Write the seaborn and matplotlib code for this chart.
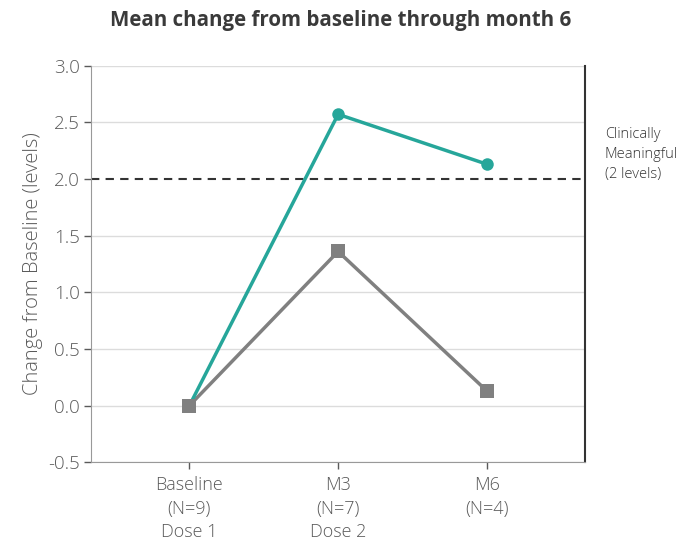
import matplotlib
matplotlib.use("Agg")
import matplotlib.pyplot as plt
import seaborn as sns
import pandas as pd

visits = ["Baseline\n(N=9)\nDose 1", "M3\n(N=7)\nDose 2", "M6\n(N=4)"]
teal_vals = [0.0, 2.57, 2.13]
gray_vals = [0.0, 1.36, 0.13]
threshold = 2.0
yticks = [-0.5, 0.0, 0.5, 1.0, 1.5, 2.0, 2.5, 3.0]

sns.set_style("white")
plt.rcParams['font.family'] = ['Open Sans', 'DejaVu Sans']

dfrm = pd.DataFrame({
    'x': list(range(len(visits))) * 2,
    'y': gray_vals + teal_vals,
    'group': ['gray'] * 3 + ['teal'] * 3,
})

fig, ax = plt.subplots(figsize=(6.81, 5.51), dpi=100)
fig.subplots_adjust(left=0.134, right=0.859, top=0.881, bottom=0.161)

for val in yticks:
    if val != threshold:
        ax.axhline(val, color='#dcdcdc', lw=1, zorder=0)

ax.axhline(threshold, color='#333333', lw=1.5, ls=(0, (4, 3)), zorder=1)

sns.lineplot(data=dfrm[dfrm.group == 'gray'], x='x', y='y', color='#808080',
             marker='s', markersize=10, markeredgewidth=0, lw=2.5, ax=ax, zorder=2)
sns.lineplot(data=dfrm[dfrm.group == 'teal'], x='x', y='y', color='#26a69a',
             marker='o', markersize=9, markeredgewidth=0, lw=2.5, ax=ax, zorder=3)
# baseline gray square sits on top
ax.plot([0], [gray_vals[0]], marker='s', color='#808080', markersize=10,
        markeredgewidth=0, zorder=4)

ax.set_xlim(-0.66, 2.66)
ax.set_ylim(-0.5, 3.0)
ax.set_yticks(yticks)
ax.set_yticklabels(["{:.1f}".format(v) for v in yticks], size=13.5, weight='light')
ax.set_xticks(range(len(visits)))
ax.set_xticklabels(visits, linespacing=1.4, size=13, weight='light')
ax.tick_params(axis='both', colors='#5a5a5a', length=5, width=1,
               direction='out', left=True, bottom=True)
ax.tick_params(axis='x', pad=5)
ax.tick_params(axis='y', pad=3)

for side in ['left', 'bottom']:
    ax.spines[side].set_color('#999999')
ax.spines['top'].set_visible(False)
ax.spines['right'].set_color('#333333')
ax.spines['right'].set_linewidth(1.5)

ax.set_xlabel("")
ax.set_ylabel("Change from Baseline (levels)", color='#5a5a5a', size=14.5,
              weight='light', labelpad=4)

fig.text(0.5, 0.963, "Mean change from baseline through month 6", ha='center',
         va='center', size=14.8, weight='bold', color='#3a3a3a')
# the reference crops this label at the right edge; kept whole here at a smaller size
ax.text(1.04, 0.775, "Clinically\nMeaningful\n(2 levels)", transform=ax.transAxes,
        ha='left', va='center', size=10.5, color='#333333', linespacing=1.45,
        weight='light')

fig.savefig("out.png", dpi=100)
